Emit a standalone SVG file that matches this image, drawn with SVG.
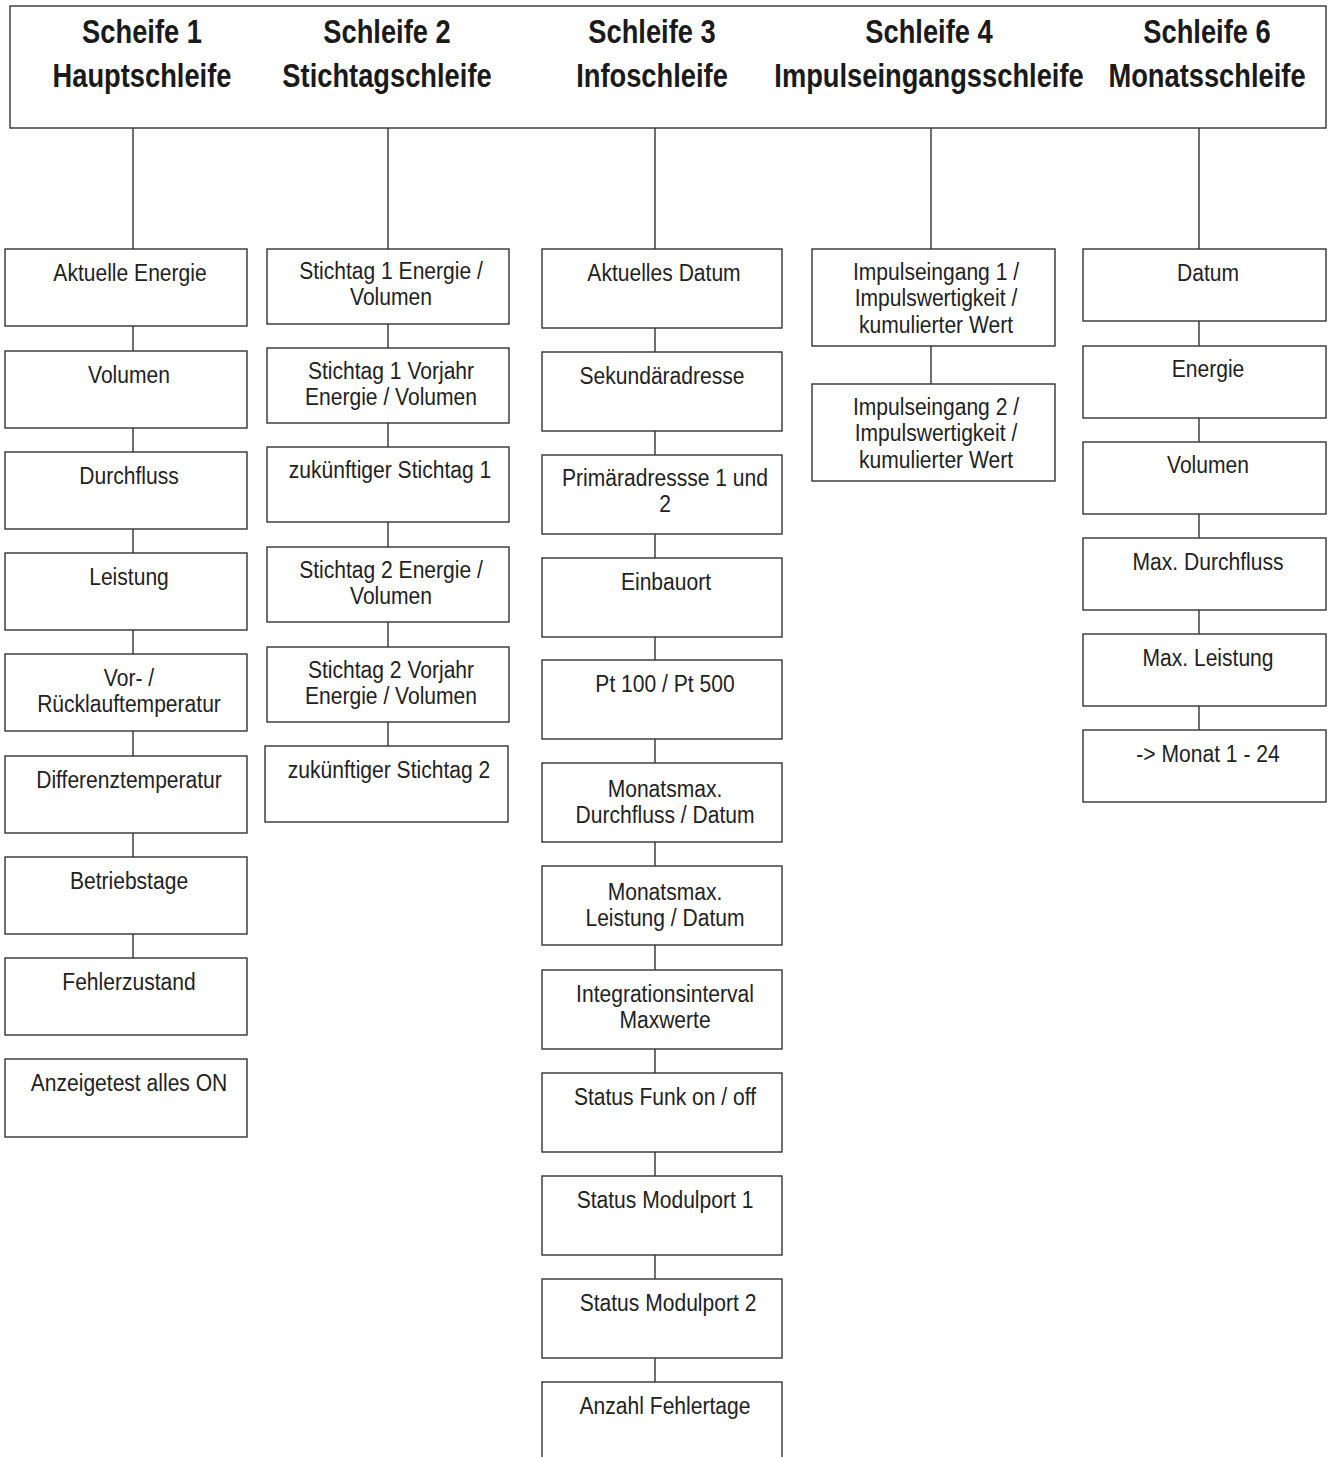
<svg xmlns="http://www.w3.org/2000/svg" width="1328" height="1457" viewBox="0 0 1328 1457">
<style>
rect{fill:#fff;stroke:#333;stroke-width:1.4}
.c line{stroke:#333;stroke-width:1.4}
text{font-family:"Liberation Sans",Arial,sans-serif;fill:#222;text-anchor:middle}
.h{font-size:32.5px;font-weight:bold;fill:#1a1a1a}
.t{font-size:24.5px}
</style>
<rect width="1328" height="1457" style="stroke:none"/>
<g id="connectors" class="c">
<line x1="133" y1="128" x2="133" y2="249"/>
<line x1="388" y1="128" x2="388" y2="249"/>
<line x1="655" y1="128" x2="655" y2="249"/>
<line x1="931" y1="128" x2="931" y2="249"/>
<line x1="1199" y1="128" x2="1199" y2="249"/>
<line x1="133" y1="326" x2="133" y2="351"/>
<line x1="133" y1="428" x2="133" y2="452"/>
<line x1="133" y1="529" x2="133" y2="553"/>
<line x1="133" y1="630" x2="133" y2="654"/>
<line x1="133" y1="731" x2="133" y2="756"/>
<line x1="133" y1="833" x2="133" y2="857"/>
<line x1="133" y1="934" x2="133" y2="958"/>
<line x1="388" y1="324" x2="388" y2="348"/>
<line x1="388" y1="423" x2="388" y2="447"/>
<line x1="388" y1="522" x2="388" y2="547"/>
<line x1="388" y1="622" x2="388" y2="647"/>
<line x1="388" y1="722" x2="388" y2="746"/>
<line x1="655" y1="328" x2="655" y2="352"/>
<line x1="655" y1="431" x2="655" y2="455"/>
<line x1="655" y1="534" x2="655" y2="558"/>
<line x1="655" y1="637" x2="655" y2="660"/>
<line x1="655" y1="739" x2="655" y2="763"/>
<line x1="655" y1="842" x2="655" y2="866"/>
<line x1="655" y1="945" x2="655" y2="970"/>
<line x1="655" y1="1049" x2="655" y2="1073"/>
<line x1="655" y1="1152" x2="655" y2="1176"/>
<line x1="655" y1="1255" x2="655" y2="1279"/>
<line x1="655" y1="1358" x2="655" y2="1382"/>
<line x1="931" y1="346" x2="931" y2="384"/>
<line x1="1199" y1="321" x2="1199" y2="346"/>
<line x1="1199" y1="418" x2="1199" y2="442"/>
<line x1="1199" y1="514" x2="1199" y2="538"/>
<line x1="1199" y1="610" x2="1199" y2="634"/>
<line x1="1199" y1="706" x2="1199" y2="730"/>
</g>
<g id="header">
<rect x="10" y="6" width="1316" height="122"/>
<text class="h" transform="translate(142 43) scale(0.84 1)">Scheife 1</text>
<text class="h" transform="translate(142 87) scale(0.84 1)">Hauptschleife</text>
<text class="h" transform="translate(387 43) scale(0.84 1)">Schleife 2</text>
<text class="h" transform="translate(387 87) scale(0.84 1)">Stichtagschleife</text>
<text class="h" transform="translate(652 43) scale(0.84 1)">Schleife 3</text>
<text class="h" transform="translate(652 87) scale(0.84 1)">Infoschleife</text>
<text class="h" transform="translate(929 43) scale(0.84 1)">Schleife 4</text>
<text class="h" transform="translate(929 87) scale(0.84 1)">Impulseingangsschleife</text>
<text class="h" transform="translate(1207 43) scale(0.84 1)">Schleife 6</text>
<text class="h" transform="translate(1207 87) scale(0.84 1)">Monatsschleife</text>
</g>
<!-- Column 1 -->
<g id="n1_1"><rect x="5" y="249" width="242" height="77"/><text class="t" transform="translate(130 281) scale(0.86 1)">Aktuelle Energie</text></g>
<g id="n1_2"><rect x="5" y="351" width="242" height="77"/><text class="t" transform="translate(129 383) scale(0.86 1)">Volumen</text></g>
<g id="n1_3"><rect x="5" y="452" width="242" height="77"/><text class="t" transform="translate(129 484) scale(0.86 1)">Durchfluss</text></g>
<g id="n1_4"><rect x="5" y="553" width="242" height="77"/><text class="t" transform="translate(129 585) scale(0.86 1)">Leistung</text></g>
<g id="n1_5"><rect x="5" y="654" width="242" height="77"/><text class="t" transform="translate(129 686) scale(0.86 1)"><tspan x="0">Vor- /</tspan><tspan x="0" dy="26.5">Rücklauftemperatur</tspan></text></g>
<g id="n1_6"><rect x="5" y="756" width="242" height="77"/><text class="t" transform="translate(129 788) scale(0.86 1)">Differenztemperatur</text></g>
<g id="n1_7"><rect x="5" y="857" width="242" height="77"/><text class="t" transform="translate(129 889) scale(0.86 1)">Betriebstage</text></g>
<g id="n1_8"><rect x="5" y="958" width="242" height="77"/><text class="t" transform="translate(129 990) scale(0.86 1)">Fehlerzustand</text></g>
<g id="n1_9"><rect x="5" y="1059" width="242" height="78"/><text class="t" transform="translate(129 1091) scale(0.86 1)">Anzeigetest alles ON</text></g>
<!-- Column 2 -->
<g id="n2_1"><rect x="267" y="249" width="242" height="75"/><text class="t" transform="translate(391 279) scale(0.86 1)"><tspan x="0">Stichtag 1 Energie /</tspan><tspan x="0" dy="26.5">Volumen</tspan></text></g>
<g id="n2_2"><rect x="267" y="348" width="242" height="75"/><text class="t" transform="translate(391 379) scale(0.86 1)"><tspan x="0">Stichtag 1 Vorjahr</tspan><tspan x="0" dy="26.5">Energie / Volumen</tspan></text></g>
<g id="n2_3"><rect x="267" y="447" width="242" height="75"/><text class="t" transform="translate(390 478) scale(0.86 1)">zukünftiger Stichtag 1</text></g>
<g id="n2_4"><rect x="267" y="547" width="242" height="75"/><text class="t" transform="translate(391 578) scale(0.86 1)"><tspan x="0">Stichtag 2 Energie /</tspan><tspan x="0" dy="26.5">Volumen</tspan></text></g>
<g id="n2_5"><rect x="267" y="647" width="242" height="75"/><text class="t" transform="translate(391 678) scale(0.86 1)"><tspan x="0">Stichtag 2 Vorjahr</tspan><tspan x="0" dy="26.5">Energie / Volumen</tspan></text></g>
<g id="n2_6"><rect x="265" y="746" width="243" height="76"/><text class="t" transform="translate(389 778) scale(0.86 1)">zukünftiger Stichtag 2</text></g>
<!-- Column 3 -->
<g id="n3_1"><rect x="542" y="249" width="240" height="79"/><text class="t" transform="translate(664 281) scale(0.86 1)">Aktuelles Datum</text></g>
<g id="n3_2"><rect x="542" y="352" width="240" height="79"/><text class="t" transform="translate(662 384) scale(0.86 1)">Sekundäradresse</text></g>
<g id="n3_3"><rect x="542" y="455" width="240" height="79"/><text class="t" transform="translate(665 486) scale(0.86 1)"><tspan x="0">Primäradressse 1 und</tspan><tspan x="0" dy="26.5">2</tspan></text></g>
<g id="n3_4"><rect x="542" y="558" width="240" height="79"/><text class="t" transform="translate(666 590) scale(0.86 1)">Einbauort</text></g>
<g id="n3_5"><rect x="542" y="660" width="240" height="79"/><text class="t" transform="translate(665 692) scale(0.86 1)">Pt 100 / Pt 500</text></g>
<g id="n3_6"><rect x="542" y="763" width="240" height="79"/><text class="t" transform="translate(665 797) scale(0.86 1)"><tspan x="0">Monatsmax.</tspan><tspan x="0" dy="26">Durchfluss / Datum</tspan></text></g>
<g id="n3_7"><rect x="542" y="866" width="240" height="79"/><text class="t" transform="translate(665 900) scale(0.86 1)"><tspan x="0">Monatsmax.</tspan><tspan x="0" dy="26">Leistung / Datum</tspan></text></g>
<g id="n3_8"><rect x="542" y="970" width="240" height="79"/><text class="t" transform="translate(665 1002) scale(0.86 1)"><tspan x="0">Integrationsinterval</tspan><tspan x="0" dy="26.5">Maxwerte</tspan></text></g>
<g id="n3_9"><rect x="542" y="1073" width="240" height="79"/><text class="t" transform="translate(665 1105) scale(0.86 1)">Status Funk on / off</text></g>
<g id="n3_10"><rect x="542" y="1176" width="240" height="79"/><text class="t" transform="translate(665 1208) scale(0.86 1)">Status Modulport 1</text></g>
<g id="n3_11"><rect x="542" y="1279" width="240" height="79"/><text class="t" transform="translate(668 1311) scale(0.86 1)">Status Modulport 2</text></g>
<g id="n3_12"><rect x="542" y="1382" width="240" height="110"/><text class="t" transform="translate(665 1414) scale(0.86 1)">Anzahl Fehlertage</text></g>
<!-- Column 4 -->
<g id="n4_1"><rect x="812" y="249" width="243" height="97"/><text class="t" transform="translate(936 280) scale(0.86 1)"><tspan x="0">Impulseingang 1 /</tspan><tspan x="0" dy="26.5">Impulswertigkeit /</tspan><tspan x="0" dy="26.5">kumulierter Wert</tspan></text></g>
<g id="n4_2"><rect x="812" y="384" width="243" height="97"/><text class="t" transform="translate(936 415) scale(0.86 1)"><tspan x="0">Impulseingang 2 /</tspan><tspan x="0" dy="26.5">Impulswertigkeit /</tspan><tspan x="0" dy="26.5">kumulierter Wert</tspan></text></g>
<!-- Column 5 -->
<g id="n5_1"><rect x="1083" y="249" width="243" height="72"/><text class="t" transform="translate(1208 281) scale(0.86 1)">Datum</text></g>
<g id="n5_2"><rect x="1083" y="346" width="243" height="72"/><text class="t" transform="translate(1208 377) scale(0.86 1)">Energie</text></g>
<g id="n5_3"><rect x="1083" y="442" width="243" height="72"/><text class="t" transform="translate(1208 473) scale(0.86 1)">Volumen</text></g>
<g id="n5_4"><rect x="1083" y="538" width="243" height="72"/><text class="t" transform="translate(1208 570) scale(0.86 1)">Max. Durchfluss</text></g>
<g id="n5_5"><rect x="1083" y="634" width="243" height="72"/><text class="t" transform="translate(1208 666) scale(0.86 1)">Max. Leistung</text></g>
<g id="n5_6"><rect x="1083" y="730" width="243" height="72"/><text class="t" transform="translate(1208 762) scale(0.86 1)">-&gt; Monat 1 - 24</text></g>
</svg>
